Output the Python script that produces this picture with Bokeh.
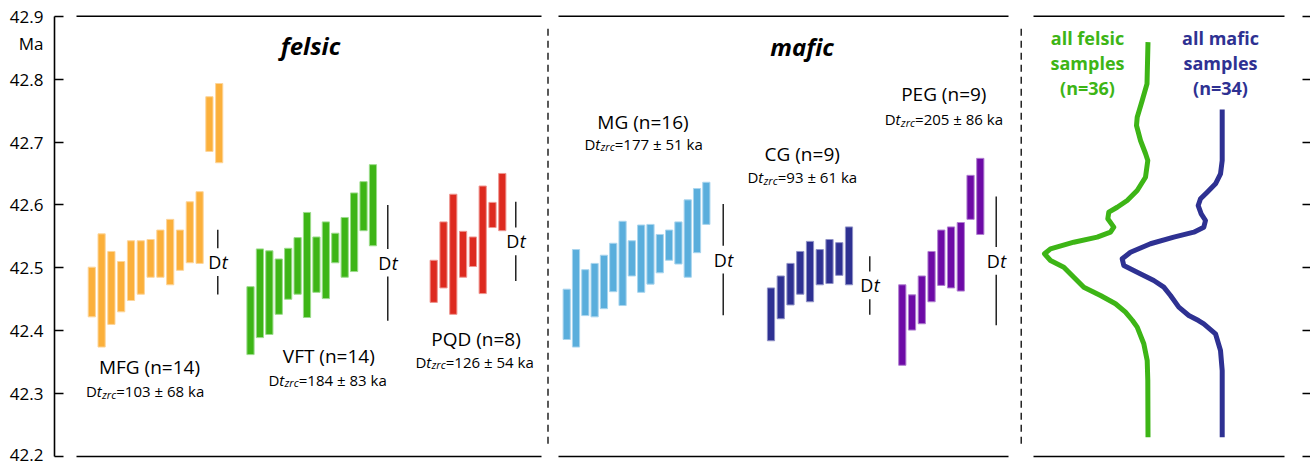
from bokeh.plotting import figure
from bokeh.models import Range1d, LinearAxis, FixedTicker, Label
from bokeh.embed import file_html
from bokeh.resources import INLINE

# ---------------- data (ages in Ma) ----------------
groups = ["MFG", "VFT", "PQD", "MG", "CG", "PEG"]

mfg_hi = [42.501, 42.554, 42.526, 42.510, 42.543, 42.543, 42.545, 42.560, 42.577, 42.560, 42.605, 42.621, 42.772, 42.793]
mfg_lo = [42.422, 42.374, 42.410, 42.430, 42.448, 42.458, 42.485, 42.485, 42.473, 42.496, 42.508, 42.507, 42.685, 42.667]

vft_hi = [42.470, 42.530, 42.527, 42.514, 42.531, 42.548, 42.588, 42.549, 42.573, 42.555, 42.580, 42.619, 42.637, 42.664]
vft_lo = [42.362, 42.389, 42.394, 42.426, 42.450, 42.458, 42.421, 42.461, 42.451, 42.508, 42.485, 42.494, 42.559, 42.535]

pqd_hi = [42.512, 42.573, 42.617, 42.558, 42.549, 42.630, 42.604, 42.650]
pqd_lo = [42.445, 42.468, 42.426, 42.485, 42.502, 42.459, 42.564, 42.559]

mg_hi = [42.466, 42.529, 42.497, 42.507, 42.520, 42.539, 42.574, 42.543, 42.568, 42.569, 42.553, 42.560, 42.573, 42.608, 42.626, 42.636]
mg_lo = [42.386, 42.374, 42.424, 42.422, 42.435, 42.462, 42.440, 42.487, 42.461, 42.474, 42.492, 42.512, 42.506, 42.485, 42.524, 42.569]

cg_hi = [42.468, 42.487, 42.507, 42.526, 42.542, 42.529, 42.545, 42.540, 42.565]
cg_lo = [42.384, 42.419, 42.441, 42.458, 42.446, 42.473, 42.475, 42.488, 42.473]

peg_hi = [42.473, 42.457, 42.487, 42.526, 42.560, 42.565, 42.572, 42.647, 42.674]
peg_lo = [42.345, 42.401, 42.411, 42.446, 42.472, 42.468, 42.463, 42.577, 42.553]

dt_ka = [103, 184, 126, 177, 93, 205]          # Delta t (ka)
dt_err = [68, 83, 54, 51, 61, 86]              # uncertainty (ka)
dt_mid = [42.509, 42.508, 42.542, 42.513, 42.472, 42.511]  # centre of the Dt bar (Ma)

kde_felsic_ma = [42.8587, 42.7925, 42.766, 42.7394, 42.7262, 42.7024, 42.6817, 42.6706, 42.644,
                 42.6229, 42.607, 42.5963, 42.5884, 42.5779, 42.5646, 42.5566, 42.5487, 42.5407,
                 42.5302, 42.5223, 42.5116, 42.501, 42.4851, 42.4692, 42.456, 42.4428, 42.4294,
                 42.4162, 42.4056, 42.3792, 42.3526, 42.3208, 42.2307]
kde_felsic = [0.0, 0.01, 0.058, 0.108, 0.115, 0.075, 0.025, 0.002, 0.025,
              0.108, 0.208, 0.308, 0.392, 0.402, 0.342, 0.375, 0.508, 0.742,
              0.975, 1.035, 0.975, 0.842, 0.742, 0.642, 0.475, 0.325, 0.225,
              0.155, 0.108, 0.042, 0.008, 0.002, 0.0]

kde_mafic_ma = [42.7517, 42.7024, 42.6706, 42.6494, 42.6335, 42.6202, 42.6097, 42.599, 42.5858,
                42.5752, 42.5646, 42.5566, 42.5487, 42.5382, 42.5248, 42.5143, 42.5037, 42.493,
                42.4798, 42.4692, 42.456, 42.4374, 42.4242, 42.4162, 42.411, 42.3951, 42.3685,
                42.3367, 42.2307]
kde_mafic = [0.0, 0.0, 0.0, 0.017, 0.067, 0.15, 0.217, 0.24, 0.21,
             0.167, 0.184, 0.284, 0.484, 0.717, 0.917, 1.0, 0.984, 0.85,
             0.684, 0.584, 0.517, 0.434, 0.334, 0.237, 0.184, 0.067, 0.017,
             0.0, 0.0]

y_ticks = [42.2, 42.3, 42.4, 42.5, 42.6, 42.7, 42.8, 42.9]
unit_label = "Ma"

# ---------------- layout / style ----------------
FONT = "Open Sans"
colors = ["#FBB03B", "#3DB516", "#DD2A1F", "#5AAEDC", "#2E3192", "#6D0AA6"]
edges = ["#FDD59A", "#9BDB8A", "#EE9690", "#A9D5EE", "#8F91C6", "#B07FD0"]
bar_x0 = [91.3, 250.0, 433.2, 566.2, 770.5, 901.8]
bar_step = [9.8, 9.42, 9.8, 9.31, 9.75, 9.75]
dt_x = [217.3, 387.3, 515.3, 722.7, 869.3, 995.7]
name_pos = [(149, 42.342), (328.3, 42.359), (475.5, 42.387), (642.5, 42.7315), (801.7, 42.681), (943.3, 42.777)]
dtz_pos = [(144.5, 42.304), (327, 42.322), (474, 42.351), (643, 42.6976), (801.7, 42.644), (943.3, 42.736)]
UNIT_POS = 42.857

PX_PER_MA = 629.0
TOP_PX, BOT_PX = 9, 463
y_top = 42.9 + (15.7 - TOP_PX) / PX_PER_MA
y_bot = y_top - (BOT_PX - TOP_PX) / PX_PER_MA

p = figure(width=1310, height=465, output_backend="svg", toolbar_location=None,
           x_range=Range1d(54, 1310), y_range=Range1d(y_bot, y_top),
           x_axis_type=None, y_axis_type=None,
           min_border_left=54, min_border_right=0, min_border_top=TOP_PX,
           min_border_bottom=465 - BOT_PX)
p.outline_line_color = None
p.background_fill_color = "white"
p.border_fill_color = "white"

# axis line + inward ticks (no labels)
yax = LinearAxis(ticker=FixedTicker(ticks=y_ticks), bounds=(42.2, 42.9))
yax.axis_line_width = 1.6
yax.major_tick_line_width = 1.6
yax.major_tick_in = 9
yax.major_tick_out = 0
yax.minor_tick_line_color = None
yax.major_label_text_font_size = "0px"
yax.major_label_text_color = None
yax.major_label_standoff = 0
p.add_layout(yax, "left")

# tick labels (and unit) only
lab_ticks = y_ticks + [UNIT_POS]
overrides = {t: f"{t:.1f}" for t in y_ticks}
overrides[UNIT_POS] = unit_label
lax = LinearAxis(ticker=FixedTicker(ticks=lab_ticks), major_label_overrides=overrides)
lax.axis_line_color = None
lax.major_tick_line_color = None
lax.major_tick_in = 0
lax.major_tick_out = 0
lax.minor_tick_line_color = None
lax.major_label_text_font = FONT
lax.major_label_text_font_size = "17px"
lax.major_label_text_color = "black"
lax.major_label_standoff = 11
p.add_layout(lax, "left")

rax = LinearAxis(ticker=FixedTicker(ticks=y_ticks), bounds=(42.2, 42.9))
rax.axis_line_color = None
rax.major_tick_line_width = 1.6
rax.major_tick_in = 8
rax.major_tick_out = 0
rax.minor_tick_line_color = None
rax.major_label_text_font_size = "0px"
rax.major_label_text_color = None
rax.major_label_standoff = 0
p.add_layout(rax, "right")

# frame lines (top and bottom, three panels)
panel_x = [(76, 541), (558, 1008), (1033, 1284)]
for (a, b) in panel_x:
    p.segment(x0=[a, a], x1=[b, b], y0=[42.9, 42.2], y1=[42.9, 42.2],
              line_color="black", line_width=1.6)
# dashed separators
p.segment(x0=[547.5, 1020.7], x1=[547.5, 1020.7], y0=[42.88, 42.88], y1=[42.216, 42.216],
          line_color="black", line_width=1.3, line_dash="7 5")

all_hi = [mfg_hi, vft_hi, pqd_hi, mg_hi, cg_hi, peg_hi]
all_lo = [mfg_lo, vft_lo, pqd_lo, mg_lo, cg_lo, peg_lo]


def lab(x, y, text, size, style="normal", color="black", align="center", xo=0, yo=0):
    p.add_layout(Label(x=x, y=y, text=text, text_font=FONT, text_font_size=size,
                       text_font_style=style, text_color=color, text_align=align,
                       text_baseline="middle", x_offset=xo, y_offset=yo))


GAP = 0.022
for g in range(len(groups)):
    hi, lo = all_hi[g], all_lo[g]
    xs = [bar_x0[g] + i * bar_step[g] for i in range(len(hi))]
    p.vbar(x=xs, width=7.2, top=hi, bottom=lo, fill_color=colors[g],
           line_color=edges[g], line_width=1)
    # Dt bar
    half = dt_ka[g] / 2000.0
    m = dt_mid[g]
    p.segment(x0=[dt_x[g]] * 2, x1=[dt_x[g]] * 2, y0=[m + half, m - GAP],
              y1=[m + GAP, m - half], line_color="black", line_width=1.3)
    lab(dt_x[g], m, "D", "18px", align="right", xo=3.5)
    lab(dt_x[g], m, "t", "18px", style="italic", align="left", xo=4.0)
    # group name
    nx, ny = name_pos[g]
    lab(nx, ny, f"{groups[g]} (n={len(hi)})", "19px")
    # Dt_zrc label
    cw = {'=': 0.572, ' ': 0.26, '±': 0.572, 'k': 0.504, 'a': 0.556}
    rest = f"={dt_ka[g]} ± {dt_err[g]} ka"
    wrest = sum(cw.get(c, 0.572) for c in rest) * 15
    wD, wt, wz = 10.7, 5.2, 14.3
    s = -(wD + wt + wz + wrest) / 2
    zx, zy = dtz_pos[g]
    lab(zx, zy, "D", "15px", align="left", xo=s)
    lab(zx, zy, "t", "15px", style="italic", align="left", xo=s + wD)
    lab(zx, zy, "zrc", "11px", style="italic", align="left", xo=s + wD + wt, yo=-3)
    lab(zx, zy, rest, "15px", align="left", xo=s + wD + wt + wz)

# density curves
FEL_BASE, MAF_BASE, SCALE = 1147.5, 1221.7, 100.0
FEL_COL, MAF_COL = "#3DB516", "#2E3192"
p.line(x=[FEL_BASE - SCALE * d for d in kde_felsic], y=kde_felsic_ma,
       line_color=FEL_COL, line_width=5, line_join="round")
p.line(x=[MAF_BASE - SCALE * d for d in kde_mafic], y=kde_mafic_ma,
       line_color=MAF_COL, line_width=5, line_join="round")

n_fel = len(mfg_hi) + len(vft_hi) + len(pqd_hi)
n_maf = len(mg_hi) + len(cg_hi) + len(peg_hi)
rows = [("all felsic", "all mafic"), ("samples", "samples"), (f"(n={n_fel})", f"(n={n_maf})")]
for i, (t1, t2) in enumerate(rows):
    yy = [42.865, 42.825, 42.786][i]
    lab(1087, yy, t1, "18px", style="bold", color=FEL_COL)
    lab(1220, yy, t2, "18px", style="bold", color=MAF_COL)

# titles
lab(310, 42.853, "felsic", "24px", style="bold italic")
lab(801.6, 42.852, "mafic", "24px", style="bold italic")

open("out.html", "w").write(file_html(p, INLINE))
